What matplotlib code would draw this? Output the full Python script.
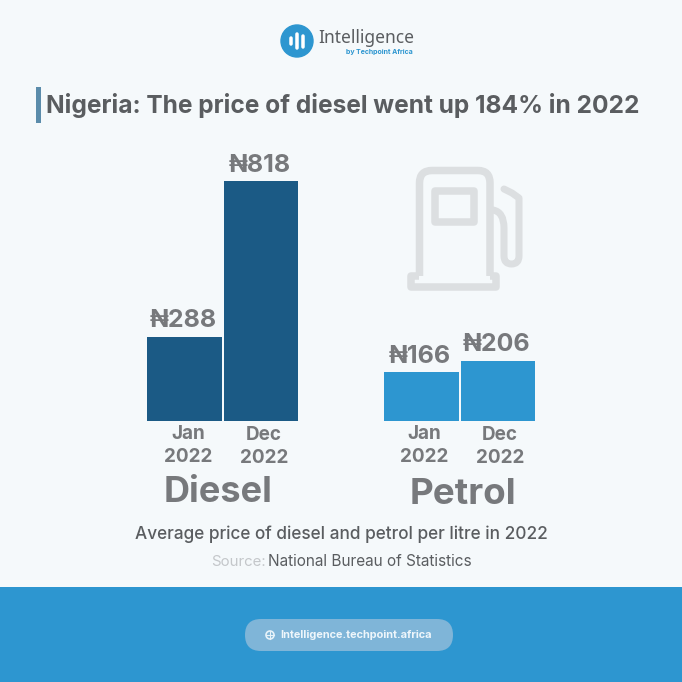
"""Nigeria diesel and petrol price infographic, saved to out.png."""
import matplotlib
matplotlib.use("Agg")
import matplotlib.pyplot as plt
from matplotlib.patches import FancyBboxPatch, PathPatch, Rectangle
from matplotlib.path import Path

plt.rcParams["font.family"] = ["Inter", "Roboto", "DejaVu Sans"]

BG = "#f5f9fb"
BLUE = "#2d96d0"
DARK_BLUE = "#1b5a85"
GREY = "#77797c"
DARK_TEXT = "#5a5d60"
ICON = "#dcdfe1"

products = ["Diesel", "Petrol"]
diesel_prices = [288, 818]
petrol_prices = [166, 206]
month_labels = ["Jan\n2022", "Dec\n2022"]

PX = 72 / 100  # points per pixel at dpi 100

fig = plt.figure(figsize=(6.82, 6.82), dpi=100, facecolor=BG)

# overlay in pixel coordinates for the decoration and text
page = fig.add_axes([0, 0, 1, 1])
page.set_xlim(0, 682)
page.set_ylim(682, 0)
page.axis("off")

# bars share one value scale: baseline at y=421, 818 at y=181
chart = fig.add_axes([0, (682 - 421) / 682, 1, 240 / 682])
chart.set_xlim(0, 682)
chart.set_ylim(0, 818)
chart.axis("off")
chart.patch.set_alpha(0)

diesel_x = [184.5, 261]
petrol_x = [421.5, 498]
chart.bar(diesel_x, diesel_prices, width=74.5, color=DARK_BLUE)
chart.bar(petrol_x, petrol_prices, width=74.5, color=BLUE)
for x, v in zip(diesel_x + petrol_x, diesel_prices + petrol_prices):
    chart.annotate(f"₦{v}", (x, v), xytext=(-1, 3), textcoords="offset points",
                   ha="center", va="bottom", fontsize=18, fontweight="bold", color=GREY,
                   annotation_clip=False)

# logo
page.add_patch(plt.Circle((297, 41), 16, color=BLUE))
for x, y0, y1 in [(291, 38, 44), (297, 34, 48), (303, 36, 47)]:
    page.plot([x, x], [y0, y1], color="white", lw=3.5 * PX, solid_capstyle="round")
page.text(318, 38, "Intelligence", fontsize=12.5, color=DARK_TEXT, ha="left", va="center",
          family=["Noto Sans"])
page.text(413, 52, "by Techpoint Africa", fontsize=5, fontweight="bold", color=BLUE,
          ha="right", va="center")

# title
page.add_patch(Rectangle((36, 87), 5, 36, color="#5b8cab", lw=0))
page.text(46, 105, "Nigeria: The price of diesel went up 184% in 2022", fontsize=17.65,
          fontweight="bold", color=DARK_TEXT, ha="left", va="center")

# fuel pump icon
body = Path([(419.5, 276), (419.5, 183), (419.5, 170.5), (432, 170.5), (478, 170.5),
             (490, 170.5), (490, 183), (490, 276)],
            [Path.MOVETO, Path.LINETO, Path.CURVE3, Path.CURVE3, Path.LINETO,
             Path.CURVE3, Path.CURVE3, Path.LINETO])
page.add_patch(PathPatch(body, fill=False, ec=ICON, lw=7.5 * PX))
base = Path([(419, 276), (410.5, 276), (410.5, 287), (496, 287), (496, 276), (490, 276)])
page.add_patch(PathPatch(base, fill=False, ec=ICON, lw=7.5 * PX, joinstyle="round"))
page.add_patch(Rectangle((434.5, 190.5), 39, 31, fill=False, ec=ICON, lw=7.5 * PX,
                         joinstyle="round"))
hose = Path([(493, 210), (504, 212), (504, 228), (504, 256), (504, 264), (511.5, 264),
             (519, 264), (519, 256), (519, 198), (512, 193), (504, 189)],
            [Path.MOVETO, Path.CURVE3, Path.CURVE3, Path.LINETO, Path.CURVE3, Path.CURVE3,
             Path.CURVE3, Path.CURVE3, Path.LINETO, Path.LINETO, Path.LINETO])
page.add_patch(PathPatch(hose, fill=False, ec=ICON, lw=7 * PX, capstyle="round",
                         joinstyle="round"))

# month labels under the bars
for x, label in zip([188, 264, 424, 500], month_labels * 2):
    y = 445.5 if x in (188, 424) else 446.5
    page.text(x, y, label, fontsize=13.6, fontweight="bold", color=GREY, ha="center",
              va="center", linespacing=1.3)

# product names
page.text(218, 492, products[0], fontsize=26, fontweight="bold", color=GREY, ha="center",
          va="center")
page.text(463, 494, products[1], fontsize=26.5, fontweight="bold", color=GREY, ha="center",
          va="center")

# caption and source
page.text(341, 534, "Average price of diesel and petrol per litre in 2022", fontsize=12.4,
          fontweight="medium", color=DARK_TEXT, ha="center", va="center")
page.text(211, 562, "Source:", fontsize=10.8, color="#c4c7ca", ha="left", va="center")
page.text(268, 562, "National Bureau of Statistics", fontsize=11.05, color=DARK_TEXT, ha="left",
          va="center")

# footer band
page.add_patch(Rectangle((0, 587), 682, 95, color=BLUE, lw=0))
page.add_patch(FancyBboxPatch((245, 619), 208, 32, boxstyle="round,pad=0,rounding_size=16",
                              fc="#7fb5d8", ec="none"))
page.add_patch(plt.Circle((270, 635), 4, fc="none", ec="#e6f2f9", lw=1.2))
page.plot([266, 274], [635, 635], color="#e6f2f9", lw=0.8)
page.plot([270, 270], [631, 639], color="#e6f2f9", lw=0.8)
page.text(280, 635, "Intelligence.techpoint.africa", fontsize=7.9, fontweight="bold",
          color="#eef6fb", ha="left", va="center")

fig.savefig("out.png", dpi=100, facecolor=BG)
